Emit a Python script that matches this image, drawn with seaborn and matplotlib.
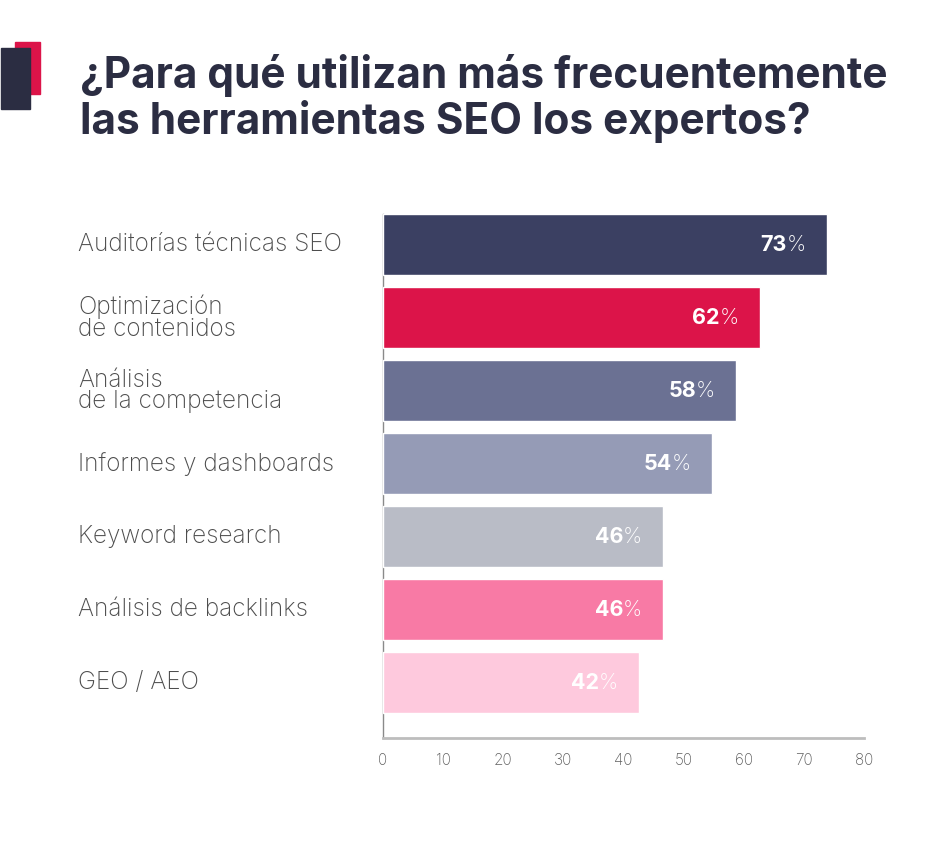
import matplotlib
matplotlib.use("Agg")
import matplotlib.pyplot as plt
from matplotlib.patches import Rectangle
from matplotlib.transforms import blended_transform_factory
import pandas as pd
import seaborn as sns

# datos
categorias = ["Auditorías técnicas SEO", "Optimización\nde contenidos", "Análisis\nde la competencia",
              "Informes y dashboards", "Keyword research", "Análisis de backlinks", "GEO / AEO"]
valores = [73.8, 62.7, 58.7, 54.7, 46.6, 46.6, 42.5]
colores = ["#3b4062", "#dc1449", "#6b7193", "#959bb6", "#b9bcc6", "#f87aa5", "#fec9dd"]
ticks = [0, 10, 20, 30, 40, 50, 60, 70, 80]

df = pd.DataFrame({"cat": categorias, "val": valores})

sns.set_style("white")
plt.rcParams["font.family"] = ["Inter", "DejaVu Sans"]

fig = plt.figure(figsize=(9.45, 8.42), dpi=100)
ax = fig.add_axes([383 / 945, 104 / 842, 481 / 945, 524 / 842])

sns.barplot(data=df, x="val", y="cat", hue="cat", palette=colores, legend=False,
            width=0.836, saturation=1, ax=ax)

ax.set_xlim(0, 80)
ax.set_ylim(6.76, -0.42)
ax.set_xticks(ticks)
ax.set_xticklabels([str(t) for t in ticks], fontsize=11, color="#5f5f5f", fontweight="light")
ax.tick_params(axis="x", direction="in", length=8, width=1, color="#a0a0a0", pad=11)
ax.set_xlabel("")
ax.set_ylabel("")
ax.set_yticks([])
for s in ["top", "right"]:
    ax.spines[s].set_visible(False)
ax.spines["left"].set_color("#8a8a8a")
ax.spines["left"].set_linewidth(1)
ax.spines["bottom"].set_color("#bdbdbd")
ax.spines["bottom"].set_linewidth(2)
ax.spines["left"].set_zorder(0)

# etiquetas de categoria a la izquierda
trans = blended_transform_factory(fig.transFigure, ax.transData)
for i, c in enumerate(categorias):
    ax.text(78 / 945, i, c, transform=trans, ha="left", va="center", fontsize=17.5,
            color="#4d4d4d", fontweight="light", linespacing=0.9, clip_on=False)

# valores dentro de las barras
for i, v in enumerate(valores):
    ax.annotate("%", xy=(v, i), xytext=(-21, 0), textcoords="offset pixels",
                ha="right", va="center", fontsize=15.5, color="white", fontweight="light")
    ax.annotate(str(int(v)), xy=(v, i), xytext=(-40, 0), textcoords="offset pixels",
                ha="right", va="center", fontsize=15.5, color="white", fontweight="bold")

# titulo
fig.text(80 / 945, 1 - 54 / 842, "¿Para qué utilizan más frecuentemente\nlas herramientas SEO los expertos?",
         ha="left", va="top", fontsize=30.5, fontweight="bold", color="#2b2d42", linespacing=1.1)

# icono
fig.add_artist(Rectangle((15 / 945, 1 - 94 / 842), 25 / 945, 52 / 842,
                         transform=fig.transFigure, color="#dc1449", zorder=1))
fig.add_artist(Rectangle((1 / 945, 1 - 109 / 842), 29 / 945, 61 / 842,
                         transform=fig.transFigure, color="#2b2d42", zorder=2))

fig.savefig("out.png", dpi=100)
